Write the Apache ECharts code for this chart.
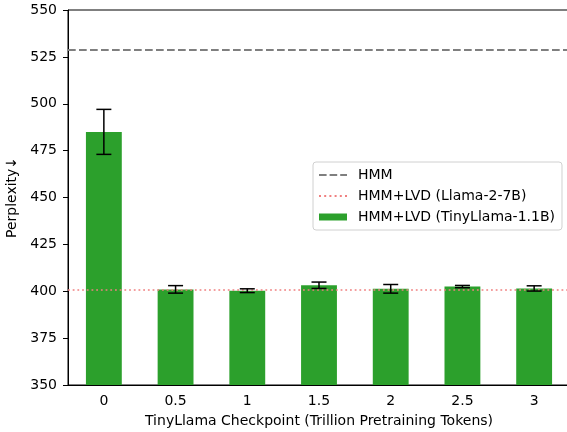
<!DOCTYPE html>
<html>
<head>
<meta charset="utf-8">
<script src="https://cdn.jsdelivr.net/npm/echarts@6/dist/echarts.min.js"></script>
<style>
  html, body { margin: 0; padding: 0; background: #fff; }
  #chart { width: 567px; height: 432px; }
</style>
</head>
<body>
<div id="chart"></div>
<script>
// Checkpoints (trillion pretraining tokens) and measured perplexity
const checkpoints = ['0', '0.5', '1', '1.5', '2', '2.5', '3'];
const perplexity = [485, 401, 400.3, 403.2, 401.3, 402.5, 401.5];
const perplexityErr = [12, 2, 1, 1.7, 2.3, 0.6, 1.4];

// Reference baselines
const hmmBaseline = 529;
const lvdLlama7b = 401;

const yTicks = { min: 350, max: 550, step: 25 };

const FONT = 'DejaVu Sans';
const FS = 14;

const errorData = checkpoints.map((c, i) => [i, perplexity[i] - perplexityErr[i], perplexity[i] + perplexityErr[i]]);

// legend handles
const dashIcon = 'path://M0,0h7.6v2.1h-7.6z M10.6,0h7.6v2.1h-7.6z M21.2,0h6.8v2.1h-6.8z';
let dots = '';
for (let x = 0; x < 27; x += 4.7) dots += 'M' + x.toFixed(1) + ',0h1.8v1.8h-1.8z ';
const dotIcon = 'path://' + dots.trim();
const rectIcon = 'path://M0,0h28v7h-28z';

const chart = echarts.init(document.getElementById('chart'), null, { renderer: 'canvas', devicePixelRatio: 1 });

chart.setOption({
  animation: false,
  textStyle: { fontFamily: FONT },
  grid: {
    left: 68, right: -3, top: 10, bottom: 47,
    containLabel: false,
    outerBoundsMode: 'none',
    show: true, borderColor: '#000', borderWidth: 1, backgroundColor: 'transparent'
  },
  legend: {
    orient: 'vertical',
    left: 313, top: 162,
    padding: [6, 7, 6, 6],
    itemGap: 7,
    itemWidth: 28, itemHeight: 8,
    backgroundColor: 'rgba(255,255,255,0.8)',
    borderColor: '#d0d0d0', borderWidth: 1, borderRadius: 3,
    textStyle: { fontFamily: FONT, fontSize: FS, color: '#000', padding: [0, 0, 0, 6] },
    data: [
      { name: 'HMM', icon: dashIcon },
      { name: 'HMM+LVD (Llama-2-7B)', icon: dotIcon },
      { name: 'HMM+LVD (TinyLlama-1.1B)', icon: rectIcon }
    ]
  },
  xAxis: {
    type: 'category',
    data: checkpoints,
    name: 'TinyLlama Checkpoint (Trillion Pretraining Tokens)',
    nameLocation: 'middle',
    nameGap: 29,
    nameTextStyle: { fontFamily: FONT, fontSize: FS, color: '#000' },
    axisLine: { lineStyle: { color: '#000', width: 1 } },
    axisTick: { alignWithLabel: true, length: 5, lineStyle: { color: '#000' } },
    axisLabel: { fontFamily: FONT, fontSize: FS, color: '#000', margin: 9 },
    splitLine: { show: false }
  },
  yAxis: {
    type: 'value',
    min: yTicks.min, max: yTicks.max, interval: yTicks.step,
    name: 'Perplexity\u2193',
    nameLocation: 'middle',
    nameRotate: 90,
    nameGap: 47,
    nameTextStyle: { fontFamily: FONT, fontSize: FS, color: '#000' },
    axisLine: { show: true, lineStyle: { color: '#000', width: 1 } },
    axisTick: { show: true, length: 5, lineStyle: { color: '#000' } },
    axisLabel: { fontFamily: FONT, fontSize: FS, color: '#000', margin: 11 },
    splitLine: { show: false }
  },
  series: [
    {
      name: 'HMM+LVD (TinyLlama-1.1B)',
      type: 'bar',
      data: perplexity,
      barWidth: '50%',
      itemStyle: { color: '#2ca02c' },
      z: 2
    },
    {
      name: 'errors',
      type: 'custom',
      data: errorData,
      z: 5,
      silent: true,
      renderItem: function (params, api) {
        const i = api.value(0);
        const lo = api.coord([i, api.value(1)]);
        const hi = api.coord([i, api.value(2)]);
        const cap = 7.5;
        const style = { stroke: '#000', lineWidth: 1.5 };
        return {
          type: 'group',
          children: [
            { type: 'line', shape: { x1: lo[0], y1: lo[1], x2: hi[0], y2: hi[1] }, style },
            { type: 'line', shape: { x1: hi[0] - cap, y1: hi[1], x2: hi[0] + cap, y2: hi[1] }, style },
            { type: 'line', shape: { x1: lo[0] - cap, y1: lo[1], x2: lo[0] + cap, y2: lo[1] }, style }
          ]
        };
      }
    },
    {
      name: 'HMM',
      type: 'line',
      data: checkpoints.map(() => null),
      itemStyle: { color: '#7f7f7f' },
      lineStyle: { color: '#7f7f7f' },
      showSymbol: false,
      z: 4,
      markLine: {
        silent: true,
        symbol: 'none',
        label: { show: false },
        lineStyle: { color: '#7f7f7f', width: 2.1, type: [7.7, 3.3] },
        data: [{ yAxis: hmmBaseline }]
      }
    },
    {
      name: 'HMM+LVD (Llama-2-7B)',
      type: 'line',
      data: checkpoints.map(() => null),
      itemStyle: { color: '#f08080' },
      lineStyle: { color: '#f08080' },
      showSymbol: false,
      z: 4,
      markLine: {
        silent: true,
        symbol: 'none',
        label: { show: false },
        lineStyle: { color: '#f08080', width: 1.7, type: [1.8, 2.9] },
        data: [{ yAxis: lvdLlama7b }]
      }
    }
  ]
});
</script>
</body>
</html>
